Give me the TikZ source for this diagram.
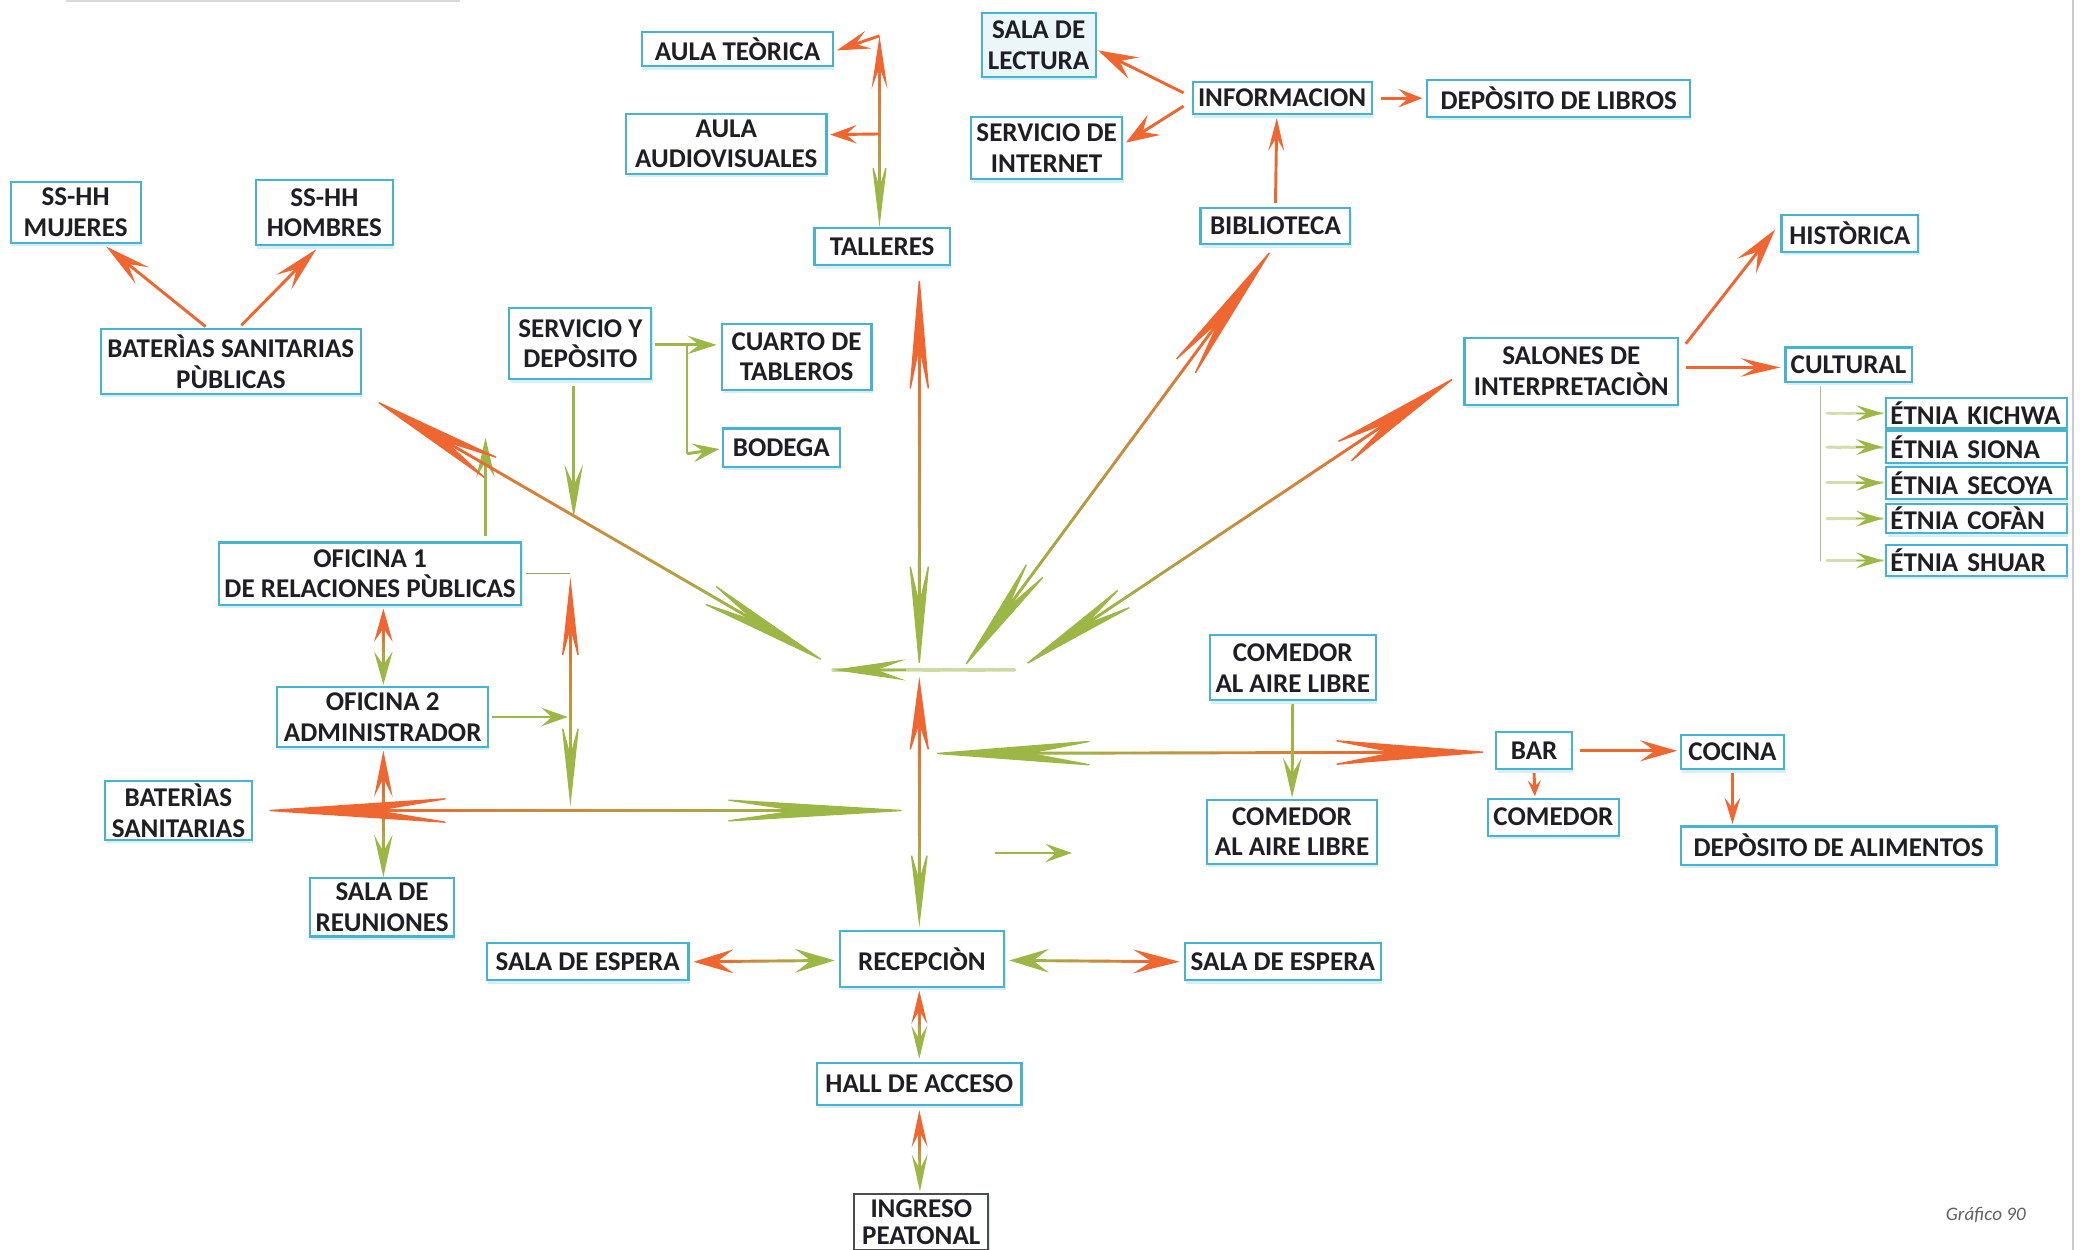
\documentclass[tikz,border=0pt]{standalone}
\usepackage{fontspec}
\setmainfont{Carlito}
\usetikzlibrary{arrows.meta,calc,shadows}
\definecolor{orA}{RGB}{240,102,48}
\definecolor{grA}{RGB}{156,183,70}
\definecolor{bxC}{RGB}{70,180,206}
\definecolor{bxS}{RGB}{214,238,246}
\definecolor{txC}{RGB}{30,30,36}
\tikzset{
 bx/.style 2 args={draw=bxC, line width=0.8pt, fill=white, text=txC,
   minimum width=#1*0.5pt, minimum height=#2*0.5pt, inner xsep=2pt, inner ysep=1pt,
   align=center, font=\fontsize{10.2}{11.5}\selectfont\bfseries,
   drop shadow={shadow xshift=0.5pt, shadow yshift=-1.3pt, fill=bxS, opacity=1}},
 etn/.style={text width=65pt, inner xsep=1.5pt, align=left},
 thinl/.style={line width=0.5pt},
}
% gradient shaft
\newcommand{\gshaft}[5][1.1pt]{%
  \foreach \k in {0,...,11}{%
    \pgfmathtruncatemacro{\pc}{round((\k+0.5)*100/12)}%
    \pgfmathsetmacro{\fa}{\k/12}\pgfmathsetmacro{\fb}{(\k+1)/12}%
    \draw[line width=#1, line cap=round, color=#5!\pc!#4] ($(#2)!\fa!(#3)$) -- ($(#2)!\fb!(#3)$);
  }}
% arrow tip at #1 pointing away from #2
\newcommand{\atip}[5]{%
  \pgfmathsetmacro{\aLen}{#4*0.5}\pgfmathsetmacro{\aWid}{#5*0.5}\pgfmathsetmacro{\aIns}{#4*0.5*0.4}%
  \draw[#3, line width=0.5pt, -{Stealth[length=\aLen pt, width=\aWid pt, inset=\aIns pt]}] ($(#1)!\aLen pt!(#2)$) -- (#1);}
% double-headed gradient connector
\newcommand{\dconn}[8]{%
  \pgfmathsetmacro{\sA}{#5*0.5*0.3}\pgfmathsetmacro{\sB}{#7*0.5*0.3}%
  \coordinate (dA) at ($(#1)!\sA pt!(#2)$);
  \coordinate (dB) at ($(#2)!\sB pt!(#1)$);
  \gshaft{dA}{dB}{#3}{#4}
  \atip{#1}{#2}{#3}{#5}{#6}
  \atip{#2}{#1}{#4}{#7}{#8}}
% single connector
\newcommand{\sconn}[5]{%
  \pgfmathsetmacro{\hL}{#4*0.5*0.5}%
  \draw[#3, line width=1.1pt] (#1) -- ($(#2)!\hL pt!(#1)$);
  \atip{#2}{#1}{#3}{#4}{#5}}
\begin{document}
\begin{tikzpicture}[x=0.5pt,y=-0.5pt]
\useasboundingbox (0,0) rectangle (1568,942);
\fill[white] (0,0) rectangle (1568,942);
\draw[gray!30, line width=0.8pt] (50,1) -- (347,1);
\draw[gray!40, line width=0.8pt] (1563,0) -- (1563,942);

% ---------- nodes ----------
\node[bx={144}{26}] (aulat) at (556,37) {AULA TEÒRICA};
\node[bx={151}{45}] (aulav) at (547.5,108.5) {AULA\\AUDIOVISUALES};
\node[bx={102}{28}] (talleres) at (665,186) {TALLERES};
\node[bx={86}{48}, fill=bxS!50] (lectura) at (783,34) {SALA DE\\LECTURA};
\node[bx={114}{47}] (internet) at (789,111.5) {SERVICIO DE\\INTERNET};
\node[bx={135}{24}] (info) at (966.5,74) {INFORMACION};
\node[bx={198}{28}] (deplib) at (1175,74) {DEPÒSITO DE LIBROS};
\node[bx={113}{27}] (biblio) at (961.5,170.5) {BIBLIOTECA};
\node[bx={98}{46}] (muj) at (57,160) {SS-HH\\MUJERES};
\node[bx={103}{49}] (hom) at (244.5,160.5) {SS-HH\\HOMBRES};
\node[bx={196}{49}] (batpub) at (174,272.5) {BATERÌAS SANITARIAS\\PÙBLICAS};
\node[bx={107}{54}] (servdep) at (437.5,259) {SERVICIO Y\\DEPÒSITO};
\node[bx={113}{50}] (cuarto) at (600.5,269) {CUARTO DE\\TABLEROS};
\node[bx={88}{29}] (bodega) at (589,337.5) {BODEGA};
\node[bx={161}{50}] (salones) at (1184.5,280) {SALONES DE\\INTERPRETACIÒN};
\node[bx={103}{28}] (hist) at (1394.5,176) {HISTÒRICA};
\node[bx={95}{26}] (cult) at (1393.5,275) {CULTURAL};
\node[bx={136}{23}, etn] (kichwa) at (1490,311.5) {ÉTNIA KICHWA};
\node[bx={136}{24}, etn] (siona) at (1490,337) {ÉTNIA SIONA};
\node[bx={136}{24}, etn] (secoya) at (1490,364) {ÉTNIA SECOYA};
\node[bx={136}{22}, etn] (cofan) at (1490,391) {ÉTNIA COFÀN};
\node[bx={136}{23}, etn] (shuar) at (1490,422.5) {ÉTNIA SHUAR};
\node[bx={228}{47}] (of1) at (279,432.5) {OFICINA 1\\DE RELACIONES PÙBLICAS};
\node[bx={159}{45}] (of2) at (288.5,540.5) {OFICINA 2\\ADMINISTRADOR};
\node[bx={111}{42}] (batsan) at (134.5,611) {BATERÌAS\\SANITARIAS};
\node[bx={104}{44}] (reun) at (288,684) {SALA DE\\REUNIONES};
\node[bx={125}{49}] (com1) at (974.5,503.5) {COMEDOR\\AL AIRE LIBRE};
\node[bx={128}{48}] (com2) at (974,627) {COMEDOR\\AL AIRE LIBRE};
\node[bx={57}{28}] (bar) at (1156.5,566) {BAR};
\node[bx={78}{26}] (cocina) at (1306,567) {COCINA};
\node[bx={98}{28}] (comedor) at (1171,616) {COMEDOR};
\node[bx={238}{29}] (depali) at (1386,637.5) {DEPÒSITO DE ALIMENTOS};
\node[bx={152}{28}] (esp1) at (443,725) {SALA DE ESPERA};
\node[bx={124}{42}] (recep) at (695,723) {RECEPCIÒN};
\node[bx={148}{28}] (esp2) at (967,725) {SALA DE ESPERA};
\node[bx={154}{32}] (hall) at (693,817) {HALL DE ACCESO};
\node[bx={101}{42}, draw=gray!60!black, font=\fontsize{10.2}{10.2}\selectfont\bfseries] (ingreso) at (694.5,921) {INGRESO\\PEATONAL};
\node[font=\fontsize{7.2}{8}\selectfont\itshape, text=gray!75!black] (graf) at (1497,916) {Gráfico 90};

% ---------- coordinates ----------
\coordinate (e1a) at ($(batpub.north)+(-19,-1)$);
\coordinate (e1b) at ($(muj.south)+(23,2)$);
\coordinate (e2a) at ($(batpub.north)+(8,-2)$);
\coordinate (e2b) at ($(hom.south)+(-6,2)$);
\coordinate (e3a) at ($(talleres.north)+(-2,0)$);
\coordinate (topT) at (663,27);
\coordinate (e4b) at ($(aulat.east)+(2,1)$);
\coordinate (avT) at (663,101);
\coordinate (e5b) at ($(aulav.east)+(2,-7)$);
\coordinate (e6a) at ($(info.west)+(-6,-4)$);
\coordinate (e6b) at ($(lectura.east)+(1,4)$);
\coordinate (e7a) at ($(info.west)+(-6,6)$);
\coordinate (e7b) at ($(internet.east)+(2,-4)$);
\coordinate (e8a) at ($(info.east)+(6,0)$);
\coordinate (e8b) at ($(deplib.west)+(-3,0)$);
\coordinate (e9a) at ($(biblio.north)+(0,-3)$);
\coordinate (e9b) at ($(info.south)+(-4,2)$);
\coordinate (e10a) at ($(servdep.east)+(2,1)$);
\coordinate (e10b) at ($(cuarto.west)+(-3,-9)$);
\coordinate (sdJ) at (518,260);
\coordinate (sdK) at (518,342);
\coordinate (e11b) at ($(bodega.west)+(-2,1)$);
\coordinate (e12a) at ($(servdep.south)+(-5,4)$);
\coordinate (sdDown) at (432.5,390);
\coordinate (e13a) at ($(of1.north)+(87,-4)$);
\coordinate (up366) at (366,330);
\coordinate (e14a) at ($(batpub.south east)+(8,3)$);
\coordinate (hubL) at (624,500);
\coordinate (hubH1) at (765,505);
\coordinate (hubH2) at (628,505);
\coordinate (e16a) at ($(biblio.south)+(-1,1)$);
\coordinate (hubB) at (725,505);
\coordinate (e17a) at ($(salones.west)+(-4,3)$);
\coordinate (hubS) at (770,503);
\coordinate (e18a) at ($(talleres.south)+(28,5)$);
\coordinate (hubT) at (693,505);
\coordinate (hubR) at (693,510);
\coordinate (e19b) at ($(recep.north)+(-2,-2)$);
\coordinate (e20a) at ($(of1.south)+(10,2)$);
\coordinate (e20b) at ($(of2.north)+(0.5,-1)$);
\coordinate (e21a) at ($(of2.south)+(0.5,2)$);
\coordinate (e21b) at ($(reun.north)+(1,0)$);
\coordinate (e22a) at ($(batsan.east)+(5,0)$);
\coordinate (hubE) at (688,611);
\coordinate (e23a) at ($(of1.east)+(3,0)$);
\coordinate (v430c) at (430,432.5);
\coordinate (v430t) at (430,435);
\coordinate (v430b) at (430,608);
\coordinate (e24a) at ($(of2.east)+(2,0)$);
\coordinate (e24b) at (428,540.5);
\coordinate (hubW) at (700,568);
\coordinate (e25b) at ($(bar.west)+(-3,1)$);
\coordinate (e26a) at ($(com1.south)+(0,2)$);
\coordinate (e26b) at ($(com2.north)+(0,-1)$);
\coordinate (smA) at (750,643);
\coordinate (smB) at (808,643);
\coordinate (e28a) at ($(bar.east)+(5,0)$);
\coordinate (e28b) at ($(cocina.west)+(-2,-1)$);
\coordinate (e29a) at ($(bar.south)+(0,2)$);
\coordinate (e29b) at ($(comedor.north)+(-14,-1)$);
\coordinate (e30a) at ($(cocina.south)+(0,2)$);
\coordinate (e30b) at ($(depali.north)+(-80,-1)$);
\coordinate (e31a) at ($(salones.north east)+(5,5)$);
\coordinate (e31b) at ($(hist.west)+(-4,-3)$);
\coordinate (e32a) at ($(salones.east)+(5,-3)$);
\coordinate (e32b) at ($(cult.west)+(-3,2)$);
\coordinate (ctT) at ($(cult.south)+(-21,2)$);
\coordinate (ctB) at (1372.5,423);
\coordinate (e34a) at ($(esp1.east)+(3,0)$);
\coordinate (e34b) at ($(recep.west)+(-3,1)$);
\coordinate (e35a) at ($(recep.east)+(3,1)$);
\coordinate (e35b) at ($(esp2.west)+(-3,0)$);
\coordinate (e36a) at ($(recep.south)+(-2,2)$);
\coordinate (e36b) at ($(hall.north)+(0,-2)$);
\coordinate (e37a) at ($(hall.south)+(0,3)$);
\coordinate (e37b) at ($(ingreso.north)+(-1,-1)$);

% ---------- connectors ----------
\sconn{e1a}{e1b}{orA}{35}{16}
\sconn{e2a}{e2b}{orA}{35}{16}
\dconn{e3a}{topT}{grA}{orA}{50}{12}{40}{12}
\sconn{topT}{e4b}{orA}{25}{14}
\sconn{avT}{e5b}{orA}{20}{14}
\sconn{e6a}{e6b}{orA}{30}{18}
\sconn{e7a}{e7b}{orA}{25}{18}
\sconn{e8a}{e8b}{orA}{18}{14}
\sconn{e9a}{e9b}{orA}{25}{12}
\sconn{e10a}{e10b}{grA}{22}{14}
\draw[grA, line width=1pt] (sdJ) -- (sdK);
\sconn{sdK}{e11b}{grA}{20}{14}
\sconn{e12a}{sdDown}{grA}{40}{14}
\sconn{e13a}{up366}{grA}{30}{14}
\dconn{e14a}{hubL}{orA}{grA}{110}{20}{110}{18}
\gshaft[1.3pt]{hubH1}{hubH2}{grA!50}{grA}
\atip{hubH2}{hubH1}{grA}{55}{16}
\dconn{e16a}{hubB}{orA}{grA}{120}{20}{100}{18}
\dconn{e17a}{hubS}{orA}{grA}{110}{20}{100}{18}
\dconn{e18a}{hubT}{orA}{grA}{95}{16}{85}{16}
\dconn{hubR}{e19b}{orA}{grA}{60}{16}{60}{14}
\dconn{e20a}{e20b}{orA}{grA}{25}{14}{25}{14}
\dconn{e21a}{e21b}{orA}{grA}{35}{14}{32}{14}
\dconn{e22a}{hubE}{orA}{grA}{150}{20}{150}{18}
\draw[grA!70!gray, thinl] (e23a) -- (v430c);
\dconn{v430t}{v430b}{orA}{grA}{65}{14}{65}{14}
\sconn{e24a}{e24b}{grA}{20}{14}
\dconn{hubW}{e25b}{grA}{orA}{130}{20}{125}{20}
\sconn{e26a}{e26b}{grA}{30}{14}
\sconn{smA}{smB}{grA}{20}{14}
\sconn{e28a}{e28b}{orA}{28}{16}
\sconn{e29a}{e29b}{orA}{12}{10}
\sconn{e30a}{e30b}{orA}{20}{12}
\sconn{e31a}{e31b}{orA}{35}{18}
\sconn{e32a}{e32b}{orA}{30}{14}
\draw[grA!60!gray!70, thinl] (ctT) -- (ctB);
\foreach \et in {kichwa,siona,secoya,cofan,shuar}{
  \coordinate (ta) at ($(\et.west)+(-44,0)$);
  \coordinate (tb) at ($(\et.west)+(-2,0)$);
  \gshaft[1.1pt]{ta}{tb}{grA!45}{grA}
  \atip{tb}{ta}{grA}{20}{12}
}
\dconn{e34a}{e34b}{orA}{grA}{30}{18}{30}{18}
\dconn{e35a}{e35b}{grA}{orA}{30}{18}{35}{18}
\dconn{e36a}{e36b}{orA}{grA}{25}{12}{25}{12}
\dconn{e37a}{e37b}{orA}{grA}{28}{12}{28}{12}
\end{tikzpicture}
\end{document}
